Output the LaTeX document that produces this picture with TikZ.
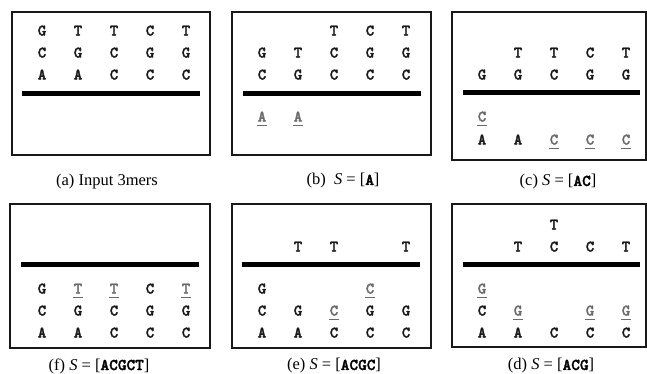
\documentclass[tikz,border=0pt]{standalone}
\usepackage{fontspec}
\setmainfont{Liberation Serif}
\newfontfamily\basefont{lmmonolt10-bold.otf}[FakeBold=2]
\usetikzlibrary{calc}
\definecolor{ink}{gray}{0.1}
\definecolor{newbase}{gray}{0.42}
\tikzset{
  panel/.style={draw=ink, line width=1.6pt},
  strand/.style={draw=black, line width=5pt},
  nt/.style={font=\fontsize{16}{16}\selectfont\basefont, inner sep=0pt,
             text height=9pt, text depth=0pt, text=ink},
  ntnew/.style={nt, text=newbase},
  ul/.style={draw=newbase, line width=1.3pt},
  caption/.style={font=\fontsize{16.5}{18}\selectfont, inner sep=0pt}
}
% a placed base, and a freshly placed base (grey, underlined)
\newcommand\ntb[4]{\node[nt] (#1) at (#2,#3) {#4};}
\newcommand\ntn[4]{\node[ntnew] (#1) at (#2,#3) {#4};
  \draw[ul] ($(#1.south)+(-5,3.5)$) -- ($(#1.south)+(5,3.5)$);}
\newcommand\seq[1]{{\basefont #1}}

\begin{document}
\begin{tikzpicture}[x=1pt,y=-1pt]
\useasboundingbox (0,0) rectangle (647,373);

% ---------- (a) ----------
\draw[panel] (12,12) rectangle (210,155);
\draw[strand] (22,93) -- (200,93);
\ntb{a11}{42}{31}{G}\ntb{a12}{78}{31}{T}\ntb{a13}{114}{31}{T}\ntb{a14}{150}{31}{C}\ntb{a15}{186}{31}{T}
\ntb{a21}{42}{53}{C}\ntb{a22}{78}{53}{G}\ntb{a23}{114}{53}{C}\ntb{a24}{150}{53}{G}\ntb{a25}{186}{53}{G}
\ntb{a31}{42}{75}{A}\ntb{a32}{78}{75}{A}\ntb{a33}{114}{75}{C}\ntb{a34}{150}{75}{C}\ntb{a35}{186}{75}{C}
\node[caption] (capa) at (107,182) {(a) Input 3mers};

% ---------- (b) ----------
\draw[panel] (232,12) rectangle (431,155);
\draw[strand] (243,93) -- (421,93);
\ntb{b13}{334}{31}{T}\ntb{b14}{370}{31}{C}\ntb{b15}{406}{31}{T}
\ntb{b21}{262}{53}{G}\ntb{b22}{298}{53}{T}\ntb{b23}{334}{53}{C}\ntb{b24}{370}{53}{G}\ntb{b25}{406}{53}{G}
\ntb{b31}{262}{75}{C}\ntb{b32}{298}{75}{G}\ntb{b33}{334}{75}{C}\ntb{b34}{370}{75}{C}\ntb{b35}{406}{75}{C}
\ntn{b41}{262}{117}{A}\ntn{b42}{298}{117}{A}
\node[caption] (capb) at (343,181) {(b)\ \ \textit{S} = [\seq{A}]};

% ---------- (c) ----------
\draw[panel] (452,12) rectangle (646,160);
\draw[strand] (463,92) -- (640,92);
\ntb{c22}{518}{53}{T}\ntb{c23}{554}{53}{T}\ntb{c24}{590}{53}{C}\ntb{c25}{626}{53}{T}
\ntb{c31}{482}{75}{G}\ntb{c32}{518}{75}{G}\ntb{c33}{554}{75}{C}\ntb{c34}{590}{75}{G}\ntb{c35}{626}{75}{G}
\ntn{c41}{482}{117}{C}
\ntb{c51}{482}{140}{A}\ntb{c52}{518}{140}{A}\ntn{c53}{554}{140}{C}\ntn{c54}{590}{140}{C}\ntn{c55}{626}{140}{C}
\node[caption] (capc) at (558,182) {(c) \textit{S} = [\seq{AC}]};

% ---------- (f) ----------
\draw[panel] (10,204) rectangle (210,348);
\draw[strand] (21,264) -- (199,264);
\ntb{f41}{42}{289}{G}\ntn{f42}{78}{289}{T}\ntn{f43}{114}{289}{T}\ntb{f44}{150}{289}{C}\ntn{f45}{186}{289}{T}
\ntb{f51}{42}{311}{C}\ntb{f52}{78}{311}{G}\ntb{f53}{114}{311}{C}\ntb{f54}{150}{311}{G}\ntb{f55}{186}{311}{G}
\ntb{f61}{42}{333}{A}\ntb{f62}{78}{333}{A}\ntb{f63}{114}{333}{C}\ntb{f64}{150}{333}{C}\ntb{f65}{186}{333}{C}
\node[caption] (capf) at (99,366) {(f) \textit{S} = [\seq{ACGCT}]};

% ---------- (e) ----------
\draw[panel] (232,204) rectangle (431,348);
\draw[strand] (242,264) -- (420,264);
\ntb{e22}{298}{247}{T}\ntb{e23}{334}{247}{T}\ntb{e25}{406}{247}{T}
\ntb{e41}{262}{289}{G}\ntn{e44}{370}{289}{C}
\ntb{e51}{262}{311}{C}\ntb{e52}{298}{311}{G}\ntn{e53}{334}{311}{C}\ntb{e54}{370}{311}{G}\ntb{e55}{406}{311}{G}
\ntb{e61}{262}{333}{A}\ntb{e62}{298}{333}{A}\ntb{e63}{334}{333}{C}\ntb{e64}{370}{333}{C}\ntb{e65}{406}{333}{C}
\node[caption] (cape) at (334,366) {(e) \textit{S} = [\seq{ACGC}]};

% ---------- (d) ----------
\draw[panel] (452,204) rectangle (646,347);
\draw[strand] (463,264) -- (640,264);
\ntb{d13}{554}{225}{T}
\ntb{d22}{518}{247}{T}\ntb{d23}{554}{247}{C}\ntb{d24}{590}{247}{C}\ntb{d25}{626}{247}{T}
\ntn{d41}{482}{289}{G}
\ntb{d51}{482}{311}{C}\ntn{d52}{518}{311}{G}\ntn{d54}{590}{311}{G}\ntn{d55}{626}{311}{G}
\ntb{d61}{482}{333}{A}\ntb{d62}{518}{333}{A}\ntb{d63}{554}{333}{C}\ntb{d64}{590}{333}{C}\ntb{d65}{626}{333}{C}
\node[caption] (capd) at (551,366) {(d) \textit{S} = [\seq{ACG}]};
\end{tikzpicture}
\end{document}
